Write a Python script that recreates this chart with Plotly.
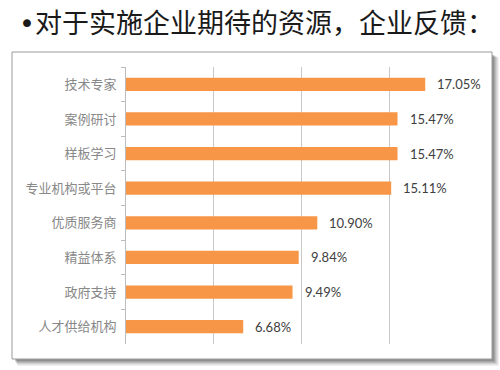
import plotly.graph_objects as go

categories = ["技术专家", "案例研讨", "样板学习", "专业机构或平台", "优质服务商", "精益体系", "政府支持", "人才供给机构"]
values = [17.05, 15.47, 15.47, 15.11, 10.90, 9.84, 9.49, 6.68]
labels = ["17.05%", "15.47%", "15.47%", "15.11%", "10.90%", "9.84%", "9.49%", "6.68%"]
title_text = "对于实施企业期待的资源，企业反馈："

L, R, T, B = 126, 23, 67, 26
W, H = 500, 370
pw, ph = W - L - R, H - T - B

def px_x(x):
    return (x - L) / pw

def px_y(y):
    return (H - B - y) / ph

fig = go.Figure()
fig.add_trace(go.Bar(
    x=values, y=categories, orientation="h",
    marker=dict(color="#F79646", line=dict(width=0)),
    width=0.38, hoverinfo="skip",
))

for c, v, t in zip(categories, values, labels):
    fig.add_annotation(x=v, y=c, text=t, showarrow=False, xanchor="left",
                       xshift=10, font=dict(family="Lato, Liberation Sans", size=13, color="#404040"))

shapes = []
# shadow
for i, op in enumerate([0.08, 0.12, 0.16, 0.22, 0.3]):
    d = 7 - i * 1.2
    shapes.append(dict(type="rect", xref="paper", yref="paper", layer="below",
                       x0=px_x(14 + d * 0.5), x1=px_x(492 + d), y0=px_y(359 + d), y1=px_y(54 + d * 0.5),
                       fillcolor=f"rgba(80,80,80,{op})", line=dict(width=0)))
shapes.append(dict(type="rect", xref="paper", yref="paper", layer="below",
                   x0=px_x(12), x1=px_x(492), y0=px_y(359), y1=px_y(52),
                   fillcolor="white", line=dict(color="#9a9a9a", width=1)))

fig.add_annotation(xref="paper", yref="paper", x=px_x(256), y=px_y(21),
                   text="<span style='font-family:DejaVu Sans'>•</span>" + title_text,
                   showarrow=False, xanchor="center", yanchor="middle",
                   font=dict(family="Noto Sans CJK SC", size=27, color="#1a1a1a"))

fig.update_layout(
    width=W, height=H, margin=dict(l=L, r=R, t=T, b=B),
    paper_bgcolor="white", plot_bgcolor="rgba(0,0,0,0)",
    shapes=shapes, showlegend=False, bargap=0.6,
    xaxis=dict(range=[0, 20], dtick=5, showgrid=True, gridcolor="#c8c8c8", gridwidth=1,
               showticklabels=False, zeroline=False, showline=False, ticks=""),
    yaxis=dict(autorange="reversed", type="category", showline=True, linecolor="#bcbcbc",
               ticks="outside", ticklen=4, tickcolor="#bcbcbc", tickson="boundaries",
               ticklabelstandoff=6,
               tickfont=dict(family="Noto Sans CJK SC", size=13, color="#888888"),
               showgrid=False, zeroline=False),
)

fig.write_html("out.html")
